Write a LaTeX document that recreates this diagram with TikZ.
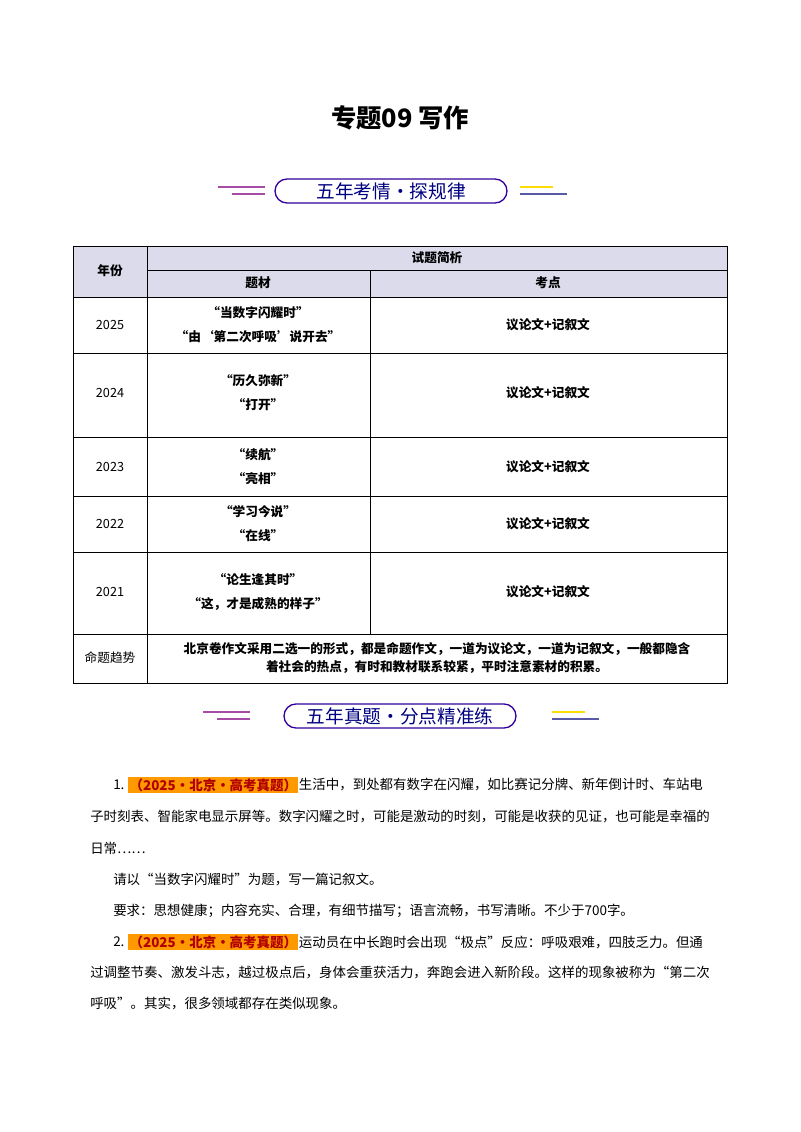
\documentclass[tikz,border=0pt]{standalone}
\usepackage{fontspec}
\setmainfont{Noto Sans CJK SC}
\begin{document}
\begin{tikzpicture}[x=0.75pt,y=-0.75pt,
  cell/.style={font=\fontsize{9.5}{12}\selectfont\bfseries,align=center,inner sep=0},
  yr/.style={font=\fontsize{9.5}{12}\selectfont,inner sep=0},
  body/.style={font=\fontsize{10.1}{12}\selectfont,anchor=west,inner sep=0},
  ban/.style={draw=blue!50!violet!80!black,line width=1pt,rounded corners=9pt,minimum width=174pt,minimum height=18pt,font=\fontsize{14}{15}\selectfont\color{blue!50!black},inner sep=0},
  hl/.style={fill=orange!80!yellow,text=red!70!black,font=\fontsize{10.1}{12}\selectfont\bfseries,inner sep=1pt,anchor=west}]
\useasboundingbox (0,0) rectangle (800,1132);
\node (title) at (400,118) {\fontsize{19}{21}\selectfont\bfseries 专题09\ 写作};
% banner 1
\node[ban] (b1) at (391,191) {五年考情·探规律};
\draw[violet!70,line width=1.8pt] (218,187)--(265,187) (232,194)--(265,194);
\draw[yellow!80!orange,line width=1.8pt] (520,187)--(553,187);
\draw[gray!70!blue,line width=1.8pt] (520,194)--(567,194);
% table
\fill[blue!30!gray!22] (73,246) rectangle (727,297);
\draw[line width=0.6pt] (73,246) rectangle (727,683);
\draw[line width=0.6pt] (147,246)--(147,683) (147,270)--(727,270) (370,270)--(370,634)
  (73,297)--(727,297) (73,353)--(727,353) (73,437)--(727,437) (73,496)--(727,496) (73,552)--(727,552) (73,634)--(727,634);
\node[cell] (h0) at (110,271) {年份};
\node[cell] (h1) at (437,258) {试题简析};
\node[cell] (h2) at (258,283) {题材};
\node[cell] (h3) at (548,283) {考点};
\node[yr] (y1) at (110,325) {2025};
\node[cell] (t1) at (258,325) {“当数字闪耀时”\\[6pt]“由‘第二次呼吸’说开去”};
\node[cell] (k1) at (548,325) {议论文+记叙文};
\node[yr] (y2) at (110,393) {2024};
\node[cell] (t2) at (258,393) {“历久弥新”\\[6pt]“打开”};
\node[cell] (k2) at (548,393) {议论文+记叙文};
\node[yr] (y3) at (110,467) {2023};
\node[cell] (t3) at (258,467) {“续航”\\[6pt]“亮相”};
\node[cell] (k3) at (548,467) {议论文+记叙文};
\node[yr] (y4) at (110,524) {2022};
\node[cell] (t4) at (258,524) {“学习今说”\\[6pt]“在线”};
\node[cell] (k4) at (548,524) {议论文+记叙文};
\node[yr] (y5) at (110,592) {2021};
\node[cell] (t5) at (258,592) {“论生逢其时”\\[6pt]“这，才是成熟的样子”};
\node[cell] (k5) at (548,592) {议论文+记叙文};
\node[yr] (y6) at (110,658) {命题趋势};
\node[cell] (t6) at (437,658) {北京卷作文采用二选一的形式，都是命题作文，一道为议论文，一道为记叙文，一般都隐含\\[2pt]着社会的热点，有时和教材联系较紧，平时注意素材的积累。};
% banner 2
\node[ban] (b2) at (400,716) {五年真题·分点精准练};
\draw[violet!70,line width=1.8pt] (203,712)--(250,712) (217,719)--(250,719);
\draw[yellow!80!orange,line width=1.8pt] (552,712)--(585,712);
\draw[gray!70!blue,line width=1.8pt] (552,719)--(599,719);
% body
\node[body] (n1) at (113,785) {1.};
\node[hl] (q1) at (128,785) {（2025·北京·高考真题）};
\node[body] (p1) at (q1.east) {生活中，到处都有数字在闪耀，如比赛记分牌、新年倒计时、车站电};
\node[body] (p2) at (90,817) {子时刻表、智能家电显示屏等。数字闪耀之时，可能是激动的时刻，可能是收获的见证，也可能是幸福的};
\node[body] (p3) at (90,848) {日常……};
\node[body] (p4) at (113,880) {请以“当数字闪耀时”为题，写一篇记叙文。};
\node[body] (p5) at (113,911) {要求：思想健康；内容充实、合理，有细节描写；语言流畅，书写清晰。不少于700字。};
\node[body] (n2) at (113,942) {2.};
\node[hl] (q2) at (128,942) {（2025·北京·高考真题）};
\node[body] (p6) at (q2.east) {运动员在中长跑时会出现“极点”反应：呼吸艰难，四肢乏力。但通};
\node[body] (p7) at (90,973) {过调整节奏、激发斗志，越过极点后，身体会重获活力，奔跑会进入新阶段。这样的现象被称为“第二次};
\node[body] (p8) at (90,1004) {呼吸”。其实，很多领域都存在类似现象。};
\end{tikzpicture}
\end{document}
